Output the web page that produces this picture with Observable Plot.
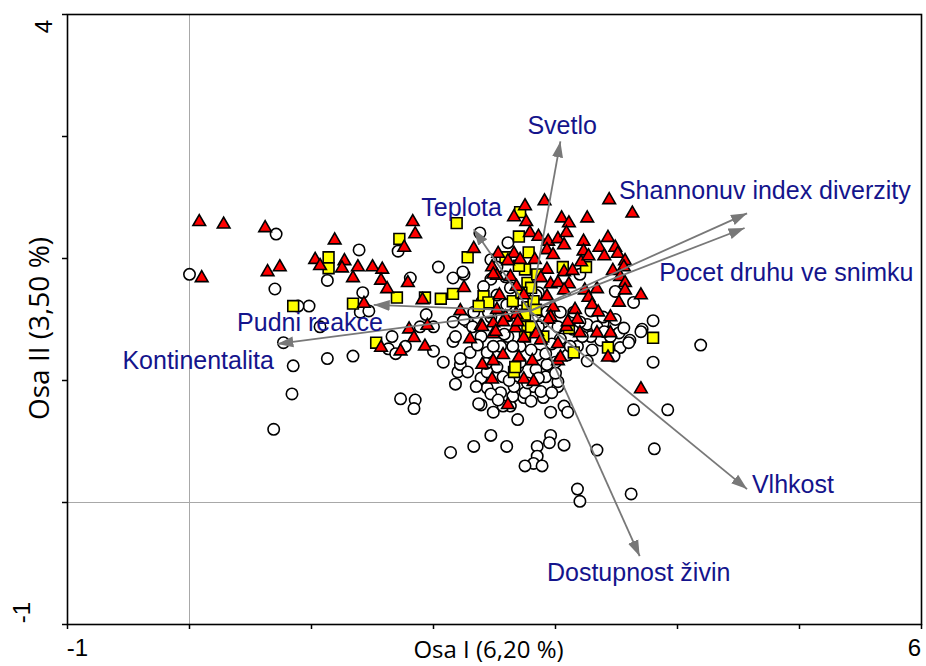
<!DOCTYPE html>
<html><head><meta charset="utf-8">
<script src="https://cdn.jsdelivr.net/npm/d3@7"></script>
<script src="https://cdn.jsdelivr.net/npm/@observablehq/plot@0.6"></script>
<style>body{margin:0;background:#fff}</style>
</head><body><div id="chart"></div>
<script>
// Sample scores [Osa I, Osa II]
const openCircles = [[0.00,1.87],[0.71,2.20],[0.70,1.75],[1.39,2.07],[1.13,1.82],[0.98,1.61],[0.89,1.61],[1.42,1.72],[1.40,1.56],[1.47,1.57],[1.07,1.44],[1.71,2.06],[1.81,1.84],[2.04,1.93],[2.16,1.84],[1.94,1.54],[1.89,1.44],[1.66,1.36],[1.77,1.28],[1.63,1.26],[1.69,1.22],[0.77,1.31],[0.85,1.12],[1.13,1.18],[1.34,1.20],[0.84,0.89],[0.69,0.60],[1.73,0.85],[1.85,0.84],[1.84,0.77],[2.00,1.24],[2.08,1.15],[2.16,1.32],[2.20,1.07],[2.18,0.97],[2.38,2.21],[2.61,2.13],[2.47,1.99],[2.25,1.87],[2.47,1.83],[2.41,1.77],[2.86,1.72],[2.28,1.48],[2.47,1.52],[2.90,1.48],[3.02,1.44],[2.18,1.36],[2.39,1.36],[2.61,1.36],[3.20,1.87],[3.49,1.73],[3.80,1.49],[3.71,1.42],[3.48,1.46],[3.39,1.47],[3.52,1.39],[3.26,1.46],[3.37,1.33],[3.61,1.33],[4.19,1.29],[2.30,1.23],[2.22,1.13],[2.39,1.02],[2.44,1.23],[2.55,1.28],[2.52,1.11],[2.57,1.03],[2.44,0.94],[2.55,0.90],[2.39,0.80],[2.63,0.79],[2.74,0.86],[2.82,0.95],[2.92,1.03],[3.02,0.95],[2.90,0.86],[3.07,0.79],[2.69,1.11],[2.85,1.21],[2.71,1.28],[3.00,1.15],[3.10,1.21],[3.04,1.34],[3.18,1.28],[3.29,1.36],[3.34,1.44],[3.45,1.36],[3.53,1.27],[3.60,1.31],[3.70,1.40],[3.80,1.15],[3.92,0.76],[3.64,0.76],[2.32,1.44],[2.22,1.18],[2.28,1.07],[2.37,0.81],[2.49,0.74],[2.47,0.89],[2.57,0.79],[2.65,0.87],[2.75,0.90],[2.80,0.83],[2.69,0.68],[2.88,0.91],[2.97,0.90],[2.96,0.74],[3.10,0.74],[3.02,0.99],[2.47,0.55],[2.33,0.46],[2.14,0.41],[2.60,0.46],[2.85,0.46],[2.96,0.55],[2.95,0.49],[3.07,0.47],[2.85,0.38],[2.82,0.32],[2.75,0.30],[2.89,0.30],[3.34,0.43],[3.18,0.11],[3.20,0.01],[3.62,0.07],[3.81,0.44],[3.26,1.16],[3.30,1.25],[3.48,1.20],[2.77,0.98],[2.66,0.95],[2.44,1.07],[2.84,1.09],[2.52,1.70],[2.84,1.70],[3.04,1.56],[3.14,1.42],[2.86,1.44],[2.80,1.25],[2.65,1.28],[2.49,1.28],[2.97,1.30],[2.43,1.14],[2.71,1.15],[2.93,1.13],[3.12,1.28],[2.00,1.44],[2.16,1.48],[2.25,1.50],[2.33,1.56],[2.45,1.56],[2.61,1.53],[2.71,1.57],[2.93,1.56],[3.15,1.56],[3.29,1.57],[3.39,1.52],[3.49,1.50],[3.56,1.43],[3.20,1.48],[3.10,1.44],[2.24,1.89],[2.52,1.93],[2.59,1.85],[2.63,1.76],[3.64,1.64],[2.36,1.29],[2.58,1.38],[2.92,1.22],[3.22,1.36],[2.62,1.00],[2.35,0.95],[3.00,1.06],[2.53,0.84],[2.86,1.02],[3.40,1.40],[2.40,1.65],[2.60,1.62]];

const yellowSquares = [[1.14,2.01],[1.14,1.92],[1.72,2.16],[0.85,1.61],[1.34,1.63],[1.70,1.68],[1.93,1.68],[2.06,1.67],[2.16,1.71],[2.19,2.29],[1.53,1.31],[2.28,2.01],[2.71,2.38],[2.70,2.18],[2.59,2.01],[2.75,1.91],[2.77,1.80],[2.41,1.69],[2.45,1.64],[2.37,1.61],[2.65,1.65],[2.77,1.60],[2.77,1.44],[2.75,1.36],[3.80,1.35],[3.11,1.43],[3.25,1.93],[3.06,1.93],[2.66,1.07],[2.67,1.11],[2.90,1.36],[3.15,1.23],[3.43,1.27],[2.80,1.44],[2.85,1.87],[2.80,1.76],[2.75,1.54],[2.82,1.65],[2.78,2.05],[2.72,1.72],[2.84,1.58],[2.70,1.94]];

const redTriangles = [[0.08,2.30],[0.28,2.28],[0.62,2.25],[0.10,1.84],[0.64,1.89],[0.74,1.93],[1.19,2.15],[1.03,1.99],[1.07,1.94],[1.27,1.98],[1.25,1.92],[1.38,1.93],[1.34,1.84],[1.50,1.93],[1.58,1.91],[1.57,1.82],[1.62,1.75],[1.79,1.80],[1.83,2.30],[1.85,2.20],[1.76,2.09],[1.43,1.63],[1.91,1.66],[1.80,1.42],[1.84,1.35],[1.95,1.45],[1.57,1.27],[1.73,1.24],[1.93,1.28],[2.75,2.43],[2.66,2.34],[2.76,2.30],[2.91,2.47],[3.05,2.33],[2.79,2.21],[2.86,2.18],[2.94,2.14],[3.02,2.16],[2.33,2.08],[2.53,2.04],[2.66,2.04],[2.71,1.99],[2.83,1.99],[2.93,2.07],[2.98,2.03],[2.61,1.98],[2.48,1.93],[2.93,1.91],[2.52,1.86],[2.63,1.85],[2.68,1.77],[2.88,1.84],[2.96,1.79],[3.02,1.80],[2.25,1.76],[2.54,1.70],[2.74,1.70],[2.93,1.69],[2.22,1.57],[2.52,1.58],[2.98,1.60],[2.68,1.54],[2.59,1.52],[2.39,1.45],[2.49,1.47],[2.57,1.48],[2.67,1.43],[2.85,1.40],[2.96,1.52],[3.44,2.48],[3.63,2.37],[3.26,2.33],[3.11,2.29],[3.09,2.21],[3.07,2.11],[3.23,2.14],[3.23,2.06],[3.36,2.09],[3.43,2.17],[3.49,2.09],[3.51,2.04],[3.57,1.98],[3.56,1.93],[3.47,1.90],[3.21,1.97],[3.07,1.89],[3.14,1.90],[3.53,1.85],[3.57,1.80],[3.57,1.74],[3.70,1.70],[3.34,1.75],[3.11,1.79],[3.24,1.74],[3.27,1.68],[3.07,1.74],[3.52,1.64],[3.30,1.62],[3.16,1.58],[3.35,1.56],[3.45,1.52],[3.18,1.50],[3.09,1.44],[3.20,1.39],[3.34,1.39],[3.45,1.39],[2.30,1.34],[2.40,1.44],[2.49,1.38],[2.40,1.13],[2.48,1.01],[2.57,1.21],[2.70,1.19],[2.81,1.16],[2.74,1.01],[2.61,0.80],[2.74,1.35],[2.84,1.38],[3.02,1.30],[3.02,1.16],[3.43,1.19],[3.70,0.93],[2.49,1.16],[2.82,0.99],[3.27,2.02],[3.40,2.02],[2.49,1.87],[2.94,1.50],[3.10,1.48],[2.51,1.40],[3.04,1.19],[2.88,1.33],[2.69,1.48]];

// Environmental variables (arrows)
const arrowNames = ["Svetlo","Shannonuv index diverzity","Pocet druhu ve snimku","Teplota","Pudni reakce","Kontinentalita","Vlhkost","Dostupnost živin"];
const arrowOrigin = [2.79, 1.57];
const arrowX = [3.04, 4.57, 4.55, 2.33, 1.51, 0.72, 4.57, 3.69];
const arrowY = [2.96, 2.37, 2.25, 2.24, 1.62, 1.30, 0.11, -0.44];
const labelX = [2.77, 3.52, 3.85, 1.90, 0.39, -0.55, 4.61, 2.93];
const labelY = [3.09, 2.55, 1.88, 2.41, 1.47, 1.16, 0.14, -0.58];

const xTicks = [-1, 0, 1, 2, 3, 4, 5, 6];
const yTicks = [-1, 0, 1, 2, 3, 4];
const xTickLabels = ["-1", "6"];
const yTickLabels = ["4", "-1"];
const xTitle = "Osa I (6,20 %)";
const yTitle = "Osa II (3,50 %)";

function filledHead(color) {
  const m = d3.create("svg:marker")
    .attr("viewBox", "-16 -6 16 12")
    .attr("refX", 0).attr("refY", 0)
    .attr("markerWidth", 16).attr("markerHeight", 12)
    .attr("markerUnits", "userSpaceOnUse")
    .attr("orient", "auto");
  m.append("path").attr("d", "M-16,-5.5L0,0L-16,5.5Z").attr("fill", color).attr("stroke", "none");
  return m.node();
}

const idx = arrowNames.map((d, i) => i);
const labelFont = "Liberation Sans, Arial, sans-serif";

const chart = Plot.plot({
  width: 926,
  height: 666,
  marginLeft: 67,
  marginRight: 5,
  marginTop: 14,
  marginBottom: 42,
  x: {domain: [-1, 6]},
  y: {domain: [-1, 4]},
  style: {background: "white", fontFamily: labelFont, overflow: "visible"},
  marks: [
    Plot.ruleX([0], {stroke: "#a8a8a8", strokeWidth: 1}),
    Plot.ruleY([0], {stroke: "#a8a8a8", strokeWidth: 1}),
    Plot.dot(openCircles, {x: d => d[0], y: d => d[1], r: 5.7, fill: "white", stroke: "black", strokeWidth: 1.6}),
    Plot.dot(yellowSquares, {x: d => d[0], y: d => d[1], symbol: "square", r: 6.1, fill: "#ffff00", stroke: "black", strokeWidth: 1.6}),
    Plot.dot(redTriangles, {x: d => d[0], y: d => d[1], symbol: "triangle", r: 4.7, fill: "#ff0000", stroke: "black", strokeWidth: 1.6}),
    Plot.link(idx, {x1: () => arrowOrigin[0], y1: () => arrowOrigin[1], x2: i => arrowX[i], y2: i => arrowY[i], stroke: "#787878", strokeWidth: 1.8, markerEnd: filledHead}),
    Plot.text(idx, {x: i => labelX[i], y: i => labelY[i], text: i => arrowNames[i], textAnchor: "start", fill: "#14148c", fontSize: 25, fontFamily: labelFont}),
    Plot.frame({stroke: "black", strokeWidth: 1.6}),
    Plot.axisX(xTicks, {anchor: "bottom", tickSize: 5, fill: "none", label: null, stroke: "black", strokeWidth: 1.5}),
    Plot.axisY(yTicks, {anchor: "left", tickSize: 5, fill: "none", label: null, stroke: "black", strokeWidth: 1.5}),
    Plot.text([xTickLabels[0]], {frameAnchor: "bottom-left", textAnchor: "middle", lineAnchor: "middle", dx: 10, dy: 24, fontSize: 24, fill: "black", fontFamily: labelFont}),
    Plot.text([xTickLabels[1]], {frameAnchor: "bottom-right", textAnchor: "middle", lineAnchor: "middle", dx: -7, dy: 24, fontSize: 24, fill: "black", fontFamily: labelFont}),
    Plot.text([yTickLabels[0]], {frameAnchor: "top-left", textAnchor: "middle", lineAnchor: "middle", rotate: -90, dx: -23, dy: 12, fontSize: 24, fill: "black", fontFamily: labelFont}),
    Plot.text([yTickLabels[1]], {frameAnchor: "bottom-left", textAnchor: "middle", lineAnchor: "middle", rotate: -90, dx: -45, dy: -12, fontSize: 24, fill: "black", fontFamily: labelFont}),
    Plot.text([xTitle], {frameAnchor: "bottom", textAnchor: "middle", lineAnchor: "middle", dx: -6, dy: 26, fontSize: 24, fill: "black", fontFamily: "Open Sans, sans-serif"}),
    Plot.text([yTitle], {frameAnchor: "left", textAnchor: "middle", lineAnchor: "middle", rotate: -90, dx: -27, dy: 9, fontSize: 28, fill: "black", fontFamily: "Open Sans, sans-serif"})
  ]
});
document.getElementById("chart").appendChild(chart);
</script>
</body></html>
